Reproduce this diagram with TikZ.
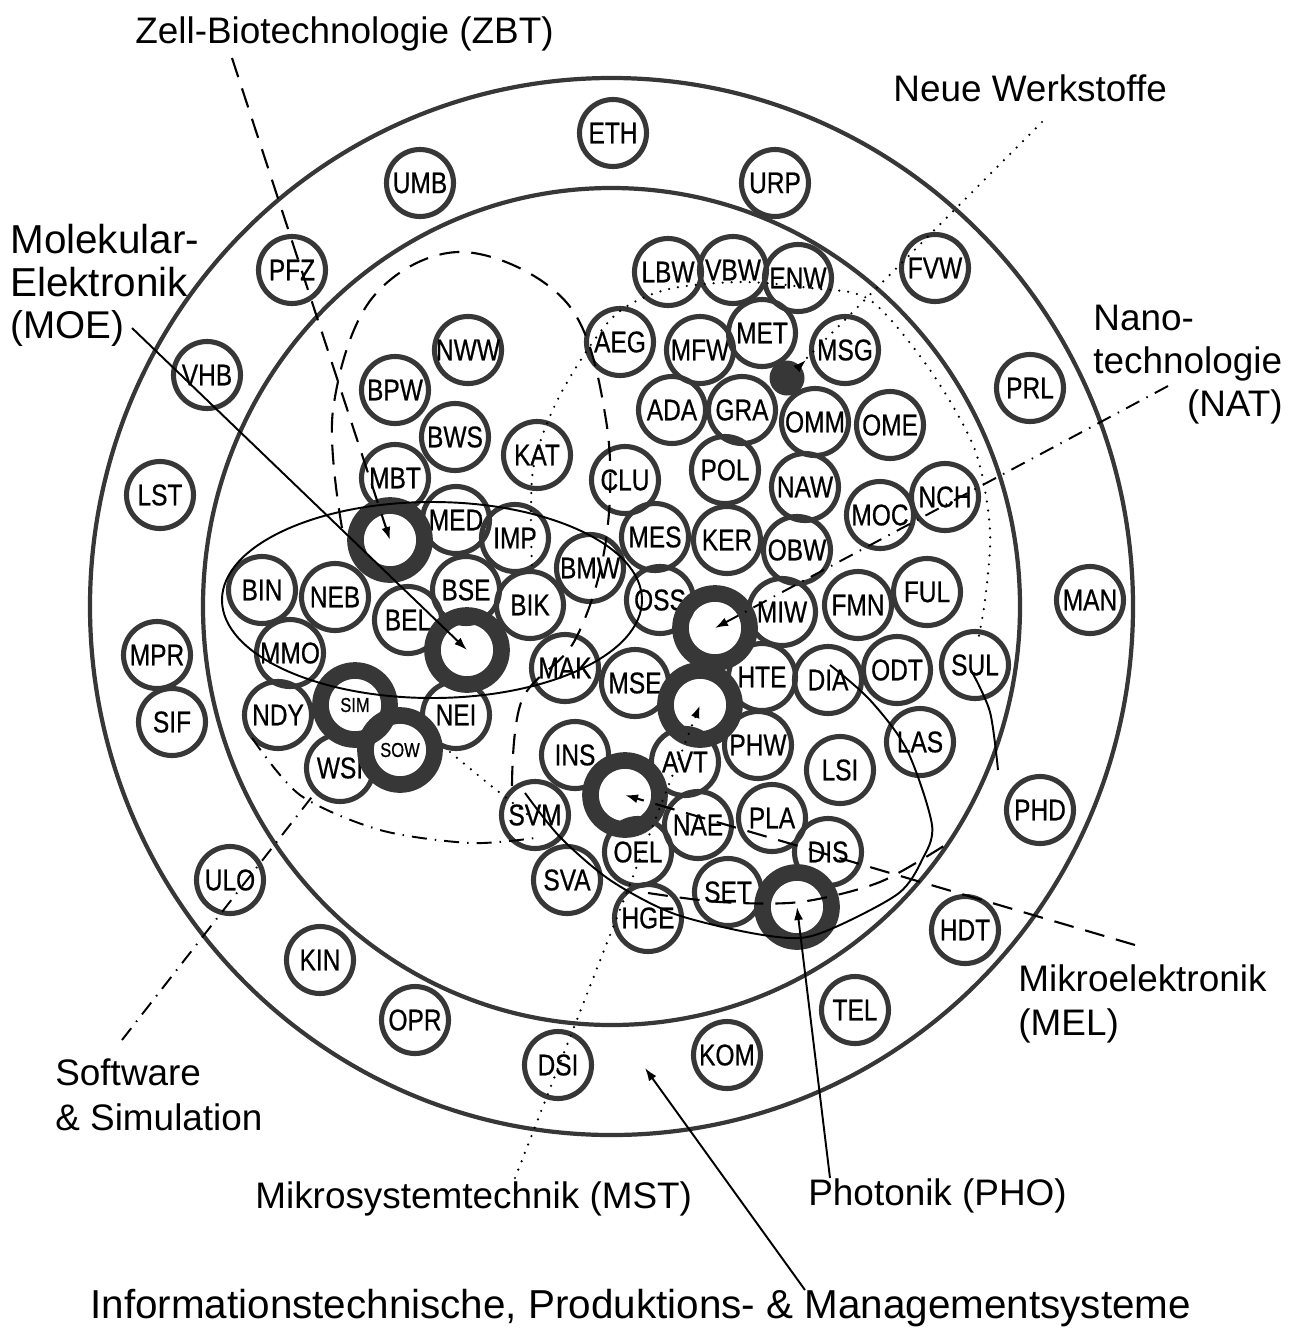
\documentclass[tikz,border=0pt]{standalone}
\usepackage{fontspec}
\setmainfont{Liberation Sans}
\newfontfamily\unitfont[FakeStretch=0.82,FakeBold=0.6]{Liberation Sans}
\usetikzlibrary{arrows.meta}
\definecolor{inkgray}{RGB}{55,55,55}

\begin{document}
\begin{tikzpicture}[x=0.2mm, y=-0.2mm,
  unitnode/.style={circle, draw=inkgray, line width=2.9pt, minimum size=13.4mm,
                   inner sep=0pt, font=\unitfont\fontsize{17}{17}\selectfont},
  hubnode/.style={circle, draw=inkgray, line width=9.5pt, minimum size=13.8mm,
                  inner sep=0pt, font=\unitfont\fontsize{11.5}{11.5}\selectfont},
  blob/.style={circle, fill=inkgray, minimum size=7mm, inner sep=0pt},
  fieldlbl/.style={inner sep=0pt, font=\fontsize{21}{25}\selectfont},
  bigring/.style={draw=inkgray, line width=2.4pt},
  leader/.style={line width=1.1pt},
  zbtline/.style={line width=1.2pt, dash pattern=on 4mm off 2.4mm},
  dashdot/.style={line width=1.1pt, dash pattern=on 3mm off 1.6mm on 0.3mm off 1.6mm},
  dotline/.style={line width=1.4pt, line cap=round, dash pattern=on 0pt off 1.8mm},
  leadtip/.style={-{Latex[length=2.6mm,width=1.8mm]}}
]
  \useasboundingbox (0,0) rectangle (1301,1339);

  % the two rings
  \draw[bigring] (611.5,606.5) ellipse [x radius=104.3mm, y radius=105.7mm];
  \draw[bigring] (611.5,606.5) ellipse [x radius=81.7mm, y radius=83.7mm];

  % field labels
  \node[fieldlbl, anchor=base west] (zbt)  at (135,43)   {Zell-Biotechnologie (ZBT)};
  \node[fieldlbl, anchor=base west] (nwk)  at (893,101)  {Neue Werkstoffe};
  \node[fieldlbl, anchor=base west, font=\fontsize{23}{25}\selectfont] (moe1) at (10,253) {Molekular-};
  \node[fieldlbl, anchor=base west, font=\fontsize{23}{25}\selectfont] (moe2) at (10,296) {Elektronik};
  \node[fieldlbl, anchor=base west, font=\fontsize{22}{25}\selectfont] (moe3) at (10,338) {(MOE)};
  \node[fieldlbl, anchor=base west] (nat1) at (1093,330) {Nano-};
  \node[fieldlbl, anchor=base west] (nat2) at (1093,373) {technologie};
  \node[fieldlbl, anchor=base east] (nat3) at (1283,416) {(NAT)};
  \node[fieldlbl, anchor=base west] (mel1) at (1018,991) {Mikroelektronik};
  \node[fieldlbl, anchor=base west] (mel2) at (1018,1035) {(MEL)};
  \node[fieldlbl, anchor=base west] (sw1)  at (55,1085)  {Software};
  \node[fieldlbl, anchor=base west] (sw2)  at (55,1130)  {\& Simulation};
  \node[fieldlbl, anchor=base west] (mst)  at (255,1208) {Mikrosystemtechnik (MST)};
  \node[fieldlbl, anchor=base west] (pho)  at (808,1205) {Photonik (PHO)};
  \node[fieldlbl, anchor=base west, font=\fontsize{23}{25}\selectfont] (ipm) at (90,1318)
       {Informationstechnische, Produktions- \& Managementsysteme};

  % outer ring
  \node[unitnode] (eth) at (613,133)  {ETH};
  \node[unitnode] (umb) at (420,183)  {UMB};
  \node[unitnode] (urp) at (775,183)  {URP};
  \node[unitnode] (pfz) at (292,270)  {PFZ};
  \node[unitnode] (fvw) at (935,268)  {FVW};
  \node[unitnode] (vhb) at (207,375)  {VHB};
  \node[unitnode] (prl) at (1030,388) {PRL};
  \node[unitnode] (lst) at (160,495)  {LST};
  \node[unitnode] (man) at (1090,600) {MAN};
  \node[unitnode] (mpr) at (157,655)  {MPR};
  \node[unitnode] (sif) at (172,722)  {SIF};
  \node[unitnode] (phd) at (1040,810) {PHD};
  \node[unitnode] (ulo) at (230,880)  {ULO};
  \node[unitnode] (hdt) at (965,930)  {HDT};
  \node[unitnode] (kin) at (320,960)  {KIN};
  \node[unitnode] (tel) at (855,1010) {TEL};
  \node[unitnode] (opr) at (415,1020) {OPR};
  \node[unitnode] (kom) at (727,1055) {KOM};
  \node[unitnode] (dsi) at (558,1065) {DSI};

  % inner circle, right cluster
  \node[unitnode] (lbw) at (668,272) {LBW};
  \node[unitnode] (vbw) at (733,270) {VBW};
  \node[unitnode] (enw) at (798,278) {ENW};
  \node[unitnode] (aeg) at (620,342) {AEG};
  \node[unitnode] (mfw) at (700,350) {MFW};
  \node[unitnode] (met) at (762,333) {MET};
  \node[unitnode] (msg) at (845,350) {MSG};
  \node[unitnode] (ada) at (672,410) {ADA};
  \node[unitnode] (gra) at (742,410) {GRA};
  \node[unitnode] (omm) at (815,422) {OMM};
  \node[unitnode] (ome) at (890,425) {OME};
  \node[unitnode] (pol) at (725,470) {POL};
  \node[unitnode] (naw) at (805,487) {NAW};
  \node[unitnode] (clu) at (625,480) {CLU};
  \node[unitnode] (moc) at (880,515) {MOC};
  \node[unitnode] (nch) at (945,497) {NCH};
  \node[unitnode] (mes) at (655,537) {MES};
  \node[unitnode] (ker) at (727,540) {KER};
  \node[unitnode] (obw) at (797,550) {OBW};
  \node[unitnode] (fmn) at (858,605) {FMN};
  \node[unitnode] (ful) at (927,592) {FUL};
  \node[unitnode] (oss) at (660,600) {OSS};
  \node[unitnode] (miw) at (782,612) {MIW};
  \node[unitnode] (hte) at (762,677) {HTE};
  \node[unitnode] (dia) at (828,680) {DIA};
  \node[unitnode] (odt) at (897,670) {ODT};
  \node[unitnode] (sul) at (975,665) {SUL};
  \node[unitnode] (mak) at (565,668) {MAK};
  \node[unitnode] (mse) at (635,683) {MSE};
  \node[unitnode] (ins) at (575,755) {INS};
  \node[unitnode] (avt) at (685,762) {AVT};
  \node[unitnode] (phw) at (758,745) {PHW};
  \node[unitnode] (lsi) at (840,770) {LSI};
  \node[unitnode] (las) at (920,742) {LAS};
  \node[unitnode] (svm) at (535,815) {SVM};
  \node[unitnode] (nae) at (698,825) {NAE};
  \node[unitnode] (pla) at (772,818) {PLA};
  \node[unitnode] (dis) at (828,852) {DIS};
  \node[unitnode] (oel) at (638,852) {OEL};
  \node[unitnode] (sva) at (567,880) {SVA};
  \node[unitnode] (set) at (728,892) {SET};
  \node[unitnode] (hge) at (648,918) {HGE};

  % inner circle, left cluster
  \node[unitnode] (nww) at (468,350) {NWW};
  \node[unitnode] (bpw) at (395,390) {BPW};
  \node[unitnode] (bws) at (455,437) {BWS};
  \node[unitnode] (kat) at (537,455) {KAT};
  \node[unitnode] (mbt) at (395,478) {MBT};
  \node[unitnode] (med) at (456,520) {MED};
  \node[unitnode] (imp) at (515,538) {IMP};
  \node[unitnode] (bmw) at (590,568) {BMW};
  \node[unitnode] (bin) at (262,590) {BIN};
  \node[unitnode] (neb) at (335,597) {NEB};
  \node[unitnode] (bse) at (466,590) {BSE};
  \node[unitnode] (bik) at (530,605) {BIK};
  \node[unitnode] (bel) at (408,620) {BEL};
  \node[unitnode] (mmo) at (290,653) {MMO};
  \node[unitnode] (ndy) at (278,715) {NDY};
  \node[unitnode] (nei) at (456,715) {NEI};
  \node[unitnode] (wsi) at (340,768) {WSI};

  % field centres
  \node[hubnode] (hubzbt) at (390,540) {};
  \node[hubnode] (hubmoe) at (467,650) {};
  \node[hubnode] (hubnat) at (715,628) {};
  \node[hubnode] (hubmst) at (700,705) {};
  \node[hubnode] (hubmel) at (625,795) {};
  \node[hubnode] (hubpho) at (797,907) {};
  \node[hubnode] (sim)    at (355,705) {SIM};
  \node[hubnode] (sow)    at (400,750) {SOW};
  \node[blob]    (hubnwk) at (787,378) {};

  % field borders
  \draw[zbtline] plot[smooth, tension=0.6] coordinates {(342,528) (333,410) (373,297)
    (463,252) (567,303) (606,420) (606,540) (575,640) (522,700) (512,790)};
  \draw[zbtline] plot[smooth] coordinates {(648,893) (720,902) (800,902) (880,882) (950,842)};
  \draw[leader] (432,600) ellipse [x radius=42mm, y radius=19.6mm];
  \draw[dashdot] plot[smooth] coordinates {(252,738) (300,795) (380,830) (470,843) (535,838)};
  \draw[dotline] plot[smooth] coordinates {(532,565) (533,470) (560,395) (612,318) (665,290)
    (740,282) (810,288) (870,300) (930,370) (975,450) (990,530) (985,600) (978,640)};
  \draw[dotline] plot[smooth] coordinates {(450,752) (490,785) (532,818)};
  \draw[leader] plot[smooth] coordinates {(525,793) (560,837) (610,880) (672,913) (746,932)
    (800,938) (840,925) (899,893) (922,860) (932,825) (907,750) (870,700) (830,665)};
  \draw[leader] plot[smooth] coordinates {(972,672) (990,712) (998,770)};

  % leaders
  \coordinate (zbtend) at (232,58);
  \coordinate (nwkend) at (1042,122);
  \coordinate (natend) at (1168,386);
  \coordinate (melend) at (1135,945);
  \coordinate (swend)  at (122,1040);
  \coordinate (mstend) at (515,1178);
  \coordinate (phoend) at (830,1178);
  \coordinate (ipmend) at (805,1290);
  \coordinate (ipmtip) at (645,1068);

  \draw[zbtline, leadtip] (zbtend) -- (hubzbt.center);
  \draw[leader, leadtip] ([xshift=1.5mm]moe3.east) -- (hubmoe.center);
  \draw[dotline] (nwkend) -- (hubnwk);
  \draw[leader, leadtip] (hubnwk) -- (806,360);
  \draw[dashdot, leadtip] (natend) -- (hubnat.center);
  \draw[zbtline, leadtip] (melend) -- (hubmel.center);
  \draw[dashdot] (swend) -- (wsi.south west);
  \draw[dotline, leadtip] (mstend) -- (hubmst.center);
  \draw[leader, leadtip] (phoend) -- (hubpho.center);
  \draw[leader, leadtip] (ipmend) -- (ipmtip);
\end{tikzpicture}
\end{document}
